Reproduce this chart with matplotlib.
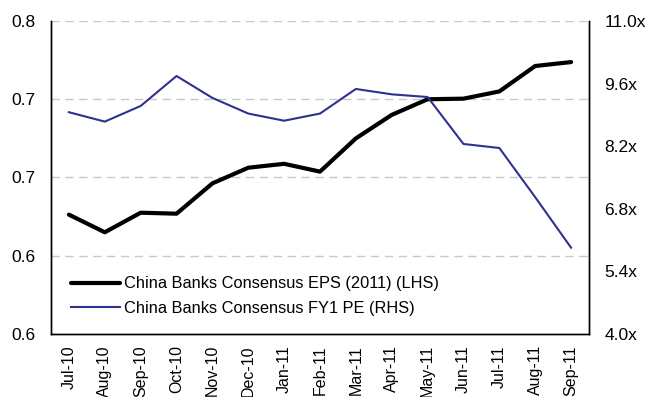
import matplotlib
matplotlib.use("Agg")
import matplotlib.pyplot as plt
from matplotlib.ticker import FuncFormatter

plt.rcParams['font.family'] = ['Liberation Sans', 'DejaVu Sans']

months = ["Jul-10", "Aug-10", "Sep-10", "Oct-10", "Nov-10", "Dec-10", "Jan-11", "Feb-11",
          "Mar-11", "Apr-11", "May-11", "Jun-11", "Jul-11", "Aug-11", "Sep-11"]
eps = [0.661, 0.652, 0.662, 0.6615, 0.677, 0.685, 0.687, 0.683,
       0.700, 0.712, 0.720, 0.7203, 0.724, 0.737, 0.739]
pe = [8.96, 8.75, 9.10, 9.77, 9.28, 8.93, 8.77, 8.93,
      9.48, 9.36, 9.30, 8.25, 8.16, 7.06, 5.93]

left_ticks = [0.60, 0.64, 0.68, 0.72, 0.76]
right_ticks = [4.0, 5.4, 6.8, 8.2, 9.6, 11.0]

fig = plt.figure(figsize=(6.52, 3.97), dpi=100)
ax = fig.add_axes([51 / 652, 1 - 334 / 397, 538 / 652, 313 / 397])
ax2 = ax.twinx()

x = list(range(len(months)))
l1, = ax.plot(x, eps, color='black', lw=3, solid_capstyle='round', label="China Banks Consensus EPS (2011) (LHS)")
l2, = ax2.plot(x, pe, color='#2e3192', lw=1.5, label="China Banks Consensus FY1 PE (RHS)")

ax.set_xlim(-0.5, len(months) - 0.5)
ax.set_ylim(0.60, 0.76)
ax2.set_ylim(4.0, 11.0)
ax.set_yticks(left_ticks)
ax.yaxis.set_major_formatter(FuncFormatter(lambda v, p: "%.1f" % v))
ax2.set_yticks(right_ticks)
ax2.yaxis.set_major_formatter(FuncFormatter(lambda v, p: "%.1fx" % v))

ax.set_xticks(x)
ax.set_xticklabels(months, rotation=90, fontsize=11.5)
ax.tick_params(axis='y', labelsize=12.5, length=0, pad=11)
ax.tick_params(axis='x', length=0, pad=8)
ax2.tick_params(axis='y', labelsize=12.5, length=0, pad=11)

for y in left_ticks[1:]:
    ax.axhline(y, color='#c8c8c8', lw=1, dashes=(6, 4), zorder=0)

for a in (ax, ax2):
    a.spines['top'].set_visible(False)
    for s in ('left', 'right', 'bottom'):
        a.spines[s].set_linewidth(1)
        a.spines[s].set_color('black')

leg = ax.legend(handles=[l1, l2], loc='lower left', bbox_to_anchor=(0.01, 0.01),
                frameon=False, fontsize=11.8, handlelength=3.0, handletextpad=0.2,
                labelspacing=0.6)

fig.savefig("out.png", dpi=100)
